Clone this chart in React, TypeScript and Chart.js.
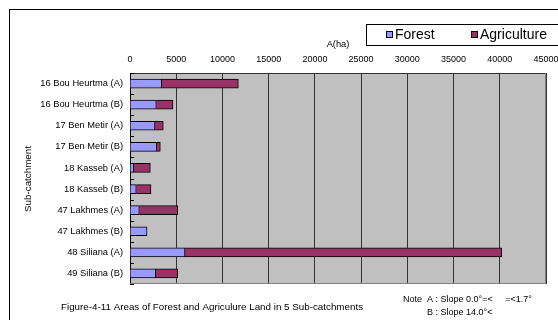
import React, { useEffect, useRef } from "react";
import { Chart, registerables } from "chart.js";

Chart.register(...registerables);

const FONT = "'Liberation Sans', Arial, sans-serif";

const categories = [
  "16 Bou Heurtma (A)",
  "16 Bou Heurtma (B)",
  "17 Ben Metir (A)",
  "17 Ben Metir (B)",
  "18 Kasseb (A)",
  "18 Kasseb (B)",
  "47 Lakhmes (A)",
  "47 Lakhmes (B)",
  "48 Siliana (A)",
  "49 Siliana (B)",
];

// Areas in hectares
const forest = [3430, 2850, 2700, 2890, 400, 680, 1010, 1840, 5950, 2780];
const agriculture = [8290, 1800, 900, 390, 1800, 1590, 4150, 0, 34250, 2380];

const xTicks = [0, 5000, 10000, 15000, 20000, 25000, 30000, 35000, 40000, 45000];

const seriesNames = ["Forest", "Agriculture"];
const seriesColors = ["#9999FF", "#993366"];

const caption = "Figure-4-11 Areas of Forest and Agriculure Land in 5 Sub-catchments";
const noteLine1 = "Note  A : Slope 0.0°=<     =<1.7°";
const noteLine2 = "B : Slope 14.0°<";

const decorations = {
  id: "decorations",
  beforeDraw(chart: any) {
    const { ctx, chartArea } = chart;
    ctx.save();
    ctx.fillStyle = "#C0C0C0";
    ctx.fillRect(chartArea.left, chartArea.top, chartArea.right - chartArea.left, chartArea.bottom - chartArea.top);
    ctx.restore();
  },
  afterDraw(chart: any) {
    const { ctx, chartArea } = chart;
    const yScale = chart.scales.y;
    ctx.save();

    // outer frame
    ctx.strokeStyle = "#000";
    ctx.lineWidth = 1;
    ctx.strokeRect(9.5, 9.5, 600, 400);

    // plot border
    ctx.strokeStyle = "#808080";
    ctx.beginPath();
    ctx.moveTo(chartArea.right - 0.5, chartArea.top);
    ctx.lineTo(chartArea.right - 0.5, chartArea.bottom - 0.5);
    ctx.lineTo(chartArea.left, chartArea.bottom - 0.5);
    ctx.stroke();

    // category tick marks
    ctx.strokeStyle = "#000";
    ctx.beginPath();
    for (let i = 0; i <= categories.length; i++) {
      const y = Math.round(yScale.getPixelForValue(i - 0.5)) + 0.5;
      ctx.moveTo(chartArea.left, y);
      ctx.lineTo(chartArea.left + 4, y);
    }
    ctx.stroke();

    // legend box
    ctx.strokeStyle = "#000";
    ctx.strokeRect(366.5, 24.5, 220, 21);
    ctx.font = `14px ${FONT}`;
    ctx.textBaseline = "middle";
    ctx.textAlign = "left";
    const legendX = [386, 471];
    seriesNames.forEach((name, i) => {
      ctx.fillStyle = seriesColors[i];
      ctx.fillRect(legendX[i], 31, 7, 7);
      ctx.strokeStyle = "#000";
      ctx.strokeRect(legendX[i] + 0.5, 31.5, 6, 6);
      ctx.fillStyle = "#000";
      ctx.fillText(name, legendX[i] + 9, 35.5);
    });

    // axis titles
    ctx.fillStyle = "#000";
    ctx.font = `9.3px ${FONT}`;
    ctx.textAlign = "center";
    ctx.fillText("A(ha)", 338, 44.5);

    ctx.save();
    ctx.translate(28, 179);
    ctx.rotate(-Math.PI / 2);
    ctx.font = `9.8px ${FONT}`;
    ctx.fillText("Sub-catchment", 0, 0);
    ctx.restore();

    // caption and note
    ctx.font = `9.8px ${FONT}`;
    ctx.textAlign = "left";
    ctx.fillText(caption, 61, 307.5);
    ctx.font = `9px ${FONT}`;
    ctx.fillText(noteLine1, 403, 300);
    ctx.fillText(noteLine2, 427, 312.5);

    ctx.restore();
  },
};

export default function App() {
  const canvasRef = useRef<HTMLCanvasElement>(null);

  useEffect(() => {
    if (!canvasRef.current) return;
    Chart.defaults.font.family = FONT;
    const chart = new Chart(canvasRef.current, {
      type: "bar",
      data: {
        labels: categories,
        datasets: [
          {
            label: seriesNames[0],
            data: forest,
            backgroundColor: seriesColors[0],
            borderColor: "#000",
            borderWidth: 1,
            barThickness: 9,
          },
          {
            label: seriesNames[1],
            data: agriculture,
            backgroundColor: seriesColors[1],
            borderColor: "#000",
            borderWidth: 1,
            barThickness: 9,
          },
        ],
      },
      options: {
        indexAxis: "y",
        responsive: false,
        maintainAspectRatio: false,
        animation: false,
        layout: { padding: { left: 0, right: 12, top: 0, bottom: 36 } },
        plugins: {
          legend: { display: false },
          tooltip: { enabled: false },
        },
        scales: {
          x: {
            position: "top",
            stacked: true,
            min: 0,
            max: 45000,
            afterBuildTicks(scale: any) {
              scale.ticks = xTicks.map((v) => ({ value: v }));
            },
            afterFit(scale: any) {
              scale.height = 73;
              scale.paddingLeft = 0;
              scale.paddingRight = 0;
            },
            ticks: {
              autoSkip: false,
              maxRotation: 0,
              padding: 8,
              color: "#000",
              font: { size: 9, family: FONT },
              callback: (v: any) => String(v),
            },
            grid: { color: "#333", lineWidth: 1, drawTicks: false },
            border: { color: "#333", width: 1 },
          },
          y: {
            stacked: true,
            afterFit(scale: any) {
              scale.width = 130;
              scale.paddingTop = 0;
              scale.paddingBottom = 0;
            },
            ticks: {
              padding: 7,
              color: "#000",
              font: { size: 9.3, family: FONT },
            },
            grid: { display: false, drawTicks: false },
            border: { color: "#000", width: 1 },
          },
        },
      },
      plugins: [decorations],
    });
    return () => chart.destroy();
  }, []);

  return (
    <div style={{ position: "absolute", left: 0, top: 0, width: 558, height: 320, background: "#fff" }}>
      <canvas ref={canvasRef} width={558} height={320} style={{ display: "block" }} />
    </div>
  );
}
